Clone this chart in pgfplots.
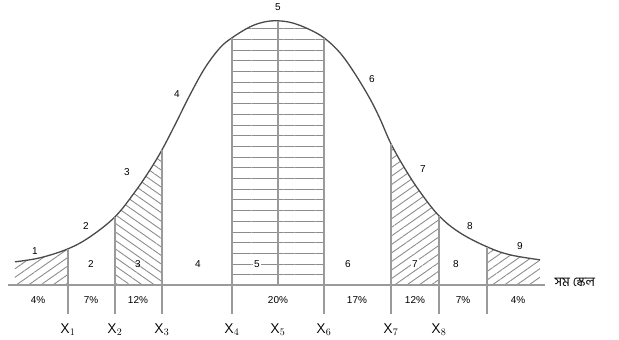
\documentclass[border=0pt]{standalone}
\usepackage{fontspec}
\setmainfont{Liberation Sans}
\newfontfamily\bengalifont[Script=Bengali]{Hind Siliguri}
\usepackage{pgfplots}
\pgfplotsset{compat=1.18}
\usepgfplotslibrary{fillbetween}
\usetikzlibrary{patterns.meta}
\definecolor{curvecol}{HTML}{4A4A4A}
\definecolor{linecol}{HTML}{9A9A9A}
\definecolor{hatchcol}{HTML}{8C8C8C}
\definecolor{txtcol}{HTML}{7A7A7A}
\begin{document}
\begin{tikzpicture}
\begin{axis}[
  hide axis, scale only axis, clip=false,
  width=619pt, height=353pt,
  xmin=0, xmax=619, ymin=0, ymax=353,
  every node/.style={text=txtcol, font=\fontsize{11}{13}\selectfont},
]
% normal curve (stanine scale)
\addplot[name path=curve, curvecol, line width=1.3pt, smooth, tension=0.6] coordinates {
  (15,85) (40,89) (68,98) (90,110) (115,130) (135,155) (150,177) (162,197)
  (175,222) (190,252) (205,279) (220,299) (232,309) (250,320) (265,325)
  (278,326) (292,324) (308,318) (324,309) (340,294) (355,273) (370,248)
  (380,228) (391,203) (405,178) (420,155) (439,131) (460,114) (487,100)
  (510,92) (540,87)
};
\addplot[name path=base, draw=none] coordinates {(0,62) (619,62)};

% hatched bands
\addplot[draw=none, pattern={Lines[angle=35,distance=7pt,line width=0.9pt]}, pattern color=hatchcol]
  fill between[of=curve and base, soft clip={domain=15:68}];
\addplot[draw=none, pattern={Lines[angle=-35,distance=7pt,line width=0.9pt]}, pattern color=hatchcol]
  fill between[of=curve and base, soft clip={domain=115:162}];
\addplot[draw=none, pattern={Lines[angle=0,distance=10.7pt,line width=1pt]}, pattern color=hatchcol]
  fill between[of=curve and base, soft clip={domain=232:324}];
\addplot[draw=none, pattern={Lines[angle=35,distance=7pt,line width=0.9pt]}, pattern color=hatchcol]
  fill between[of=curve and base, soft clip={domain=391:439}];
\addplot[draw=none, pattern={Lines[angle=35,distance=7pt,line width=0.9pt]}, pattern color=hatchcol]
  fill between[of=curve and base, soft clip={domain=487:540}];

% baseline
\addplot[linecol, line width=2pt] coordinates {(8,62) (545,62)};

% boundary lines
\addplot[linecol, line width=1.5pt] coordinates {(68,33) (68,98)};
\addplot[linecol, line width=1.5pt] coordinates {(115,33) (115,130)};
\addplot[linecol, line width=1.5pt] coordinates {(162,33) (162,197)};
\addplot[linecol, line width=1.5pt] coordinates {(232,33) (232,309)};
\addplot[linecol, line width=1.5pt] coordinates {(278,62) (278,326)};
\addplot[linecol, line width=1.5pt] coordinates {(324,33) (324,309)};
\addplot[linecol, line width=1.5pt] coordinates {(391,33) (391,203)};
\addplot[linecol, line width=1.5pt] coordinates {(439,33) (439,131)};
\addplot[linecol, line width=1.5pt] coordinates {(487,33) (487,100)};

% numbers along the curve
\node at (axis cs:35,96) {1};
\node at (axis cs:86,121) {2};
\node at (axis cs:127,175) {3};
\node at (axis cs:177,253) {4};
\node at (axis cs:278,340) {5};
\node at (axis cs:372,268) {6};
\node at (axis cs:423,178) {7};
\node at (axis cs:470,121) {8};
\node at (axis cs:520,101) {9};

% band numbers
\node at (axis cs:91,83) {2};
\node at (axis cs:138,83) {3};
\node at (axis cs:198,83) {4};
\node[fill=white, inner sep=1pt] at (axis cs:257,83) {5};
\node at (axis cs:348,83) {6};
\node[fill=white, inner sep=1pt] at (axis cs:415,83) {7};
\node at (axis cs:456,83) {8};

% percentages
\node at (axis cs:38,47) {4\%};
\node at (axis cs:91,47) {7\%};
\node at (axis cs:138,47) {12\%};
\node at (axis cs:278,47) {20\%};
\node at (axis cs:357,47) {17\%};
\node at (axis cs:415,47) {12\%};
\node at (axis cs:463,47) {7\%};
\node at (axis cs:518,47) {4\%};

% scale label
\node[anchor=west, font=\fontsize{13}{15}\selectfont] at (axis cs:551,64) {\bengalifont সম স্কেল};

% cut points
\foreach \xx/\ii in {68/1,115/2,162/3,232/4,278/5,324/6,391/7,439/8} {
  \edef\tmp{\noexpand\node[font=\noexpand\fontsize{14}{16}\noexpand\selectfont] at (axis cs:\xx,17) {$\noexpand\mathsf{X}_{\ii}$};}
  \tmp
}
\end{axis}
\end{tikzpicture}
\end{document}
